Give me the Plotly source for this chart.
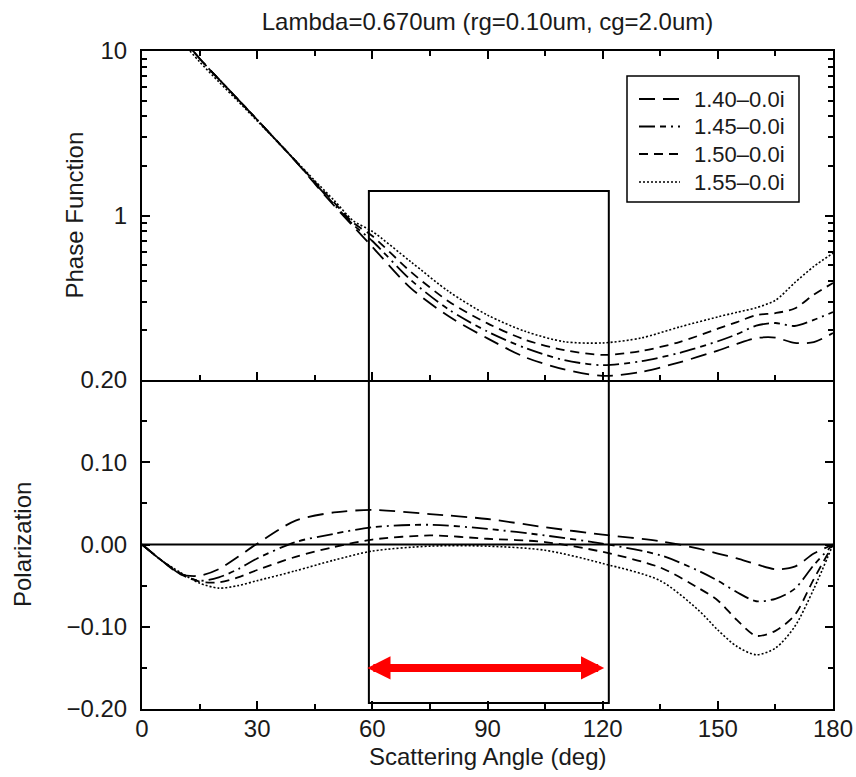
import plotly.graph_objects as go
from plotly.subplots import make_subplots

# ---------------- data ----------------
series_names = ["1.40\u20130.0i", "1.45\u20130.0i", "1.50\u20130.0i", "1.55\u20130.0i"]

ang_pf = [0, 5, 10, 15, 20, 25, 30, 35, 40, 45, 50, 55, 60, 70, 80, 90,
          100, 110, 120, 130, 140, 150, 155, 160, 165, 170, 175, 180]
pf_140 = [30, 20, 12.6, 9.0, 6.75, 5.08, 3.82, 2.86, 2.14, 1.56, 1.15, 0.86, 0.645,
          0.362, 0.243, 0.179, 0.137, 0.116, 0.106, 0.112, 0.128, 0.151, 0.166,
          0.180, 0.181, 0.168, 0.170, 0.193]
pf_145 = [30, 20, 12.6, 9.0, 6.75, 5.08, 3.82, 2.86, 2.14, 1.58, 1.17, 0.88, 0.70,
          0.406, 0.267, 0.197, 0.156, 0.132, 0.123, 0.130, 0.146, 0.172, 0.190,
          0.214, 0.222, 0.213, 0.232, 0.259]
pf_150 = [30, 20, 12.6, 9.0, 6.75, 5.08, 3.82, 2.86, 2.15, 1.60, 1.20, 0.905, 0.75,
          0.455, 0.299, 0.221, 0.175, 0.152, 0.142, 0.150, 0.170, 0.205, 0.225,
          0.248, 0.255, 0.272, 0.330, 0.389]
pf_155 = [28, 18.5, 11.8, 8.6, 6.5, 4.95, 3.76, 2.85, 2.16, 1.63, 1.24, 0.93, 0.80,
          0.524, 0.344, 0.248, 0.197, 0.171, 0.168, 0.180, 0.210, 0.242, 0.258,
          0.275, 0.305, 0.390, 0.490, 0.590]

ang_pol = [0, 5, 10, 15, 20, 25, 30, 40, 50, 60, 75, 90, 105, 120, 135, 145,
           150, 155, 160, 165, 170, 175, 180]
pol_140 = [0, -0.019, -0.036, -0.038, -0.030, -0.015, 0.001, 0.029, 0.039, 0.042,
           0.037, 0.031, 0.021, 0.012, 0.004, -0.005, -0.011, -0.017, -0.024,
           -0.030, -0.027, -0.011, 0]
pol_145 = [0, -0.019, -0.036, -0.044, -0.040, -0.030, -0.017, 0.003, 0.013, 0.021,
           0.024, 0.019, 0.011, 0.001, -0.013, -0.032, -0.044, -0.058, -0.069,
           -0.066, -0.054, -0.025, 0]
pol_150 = [0, -0.019, -0.035, -0.045, -0.046, -0.040, -0.031, -0.015, -0.003, 0.006,
           0.011, 0.007, 0.003, -0.009, -0.028, -0.053, -0.068, -0.092, -0.111,
           -0.105, -0.086, -0.042, 0]
pol_155 = [0, -0.019, -0.034, -0.047, -0.053, -0.050, -0.044, -0.032, -0.019, -0.008,
           -0.002, -0.002, -0.007, -0.023, -0.044, -0.080, -0.104, -0.124, -0.134,
           -0.126, -0.100, -0.054, 0]

x_tickvals = [0, 30, 60, 90, 120, 150, 180]
x_ticktext = ["0", "30", "60", "90", "120", "150", "180"]
pf_tickvals = [1, 10]
pf_ticktext = ["1", "10"]
pol_tickvals = [-0.2, -0.1, 0.0, 0.1, 0.2]
pol_ticktext = ["\u22120.20", "\u22120.10", "0.00", "0.10", "0.20"]

title_text = "Lambda=0.670um (rg=0.10um, cg=2.0um)"
x_title = "Scattering Angle (deg)"
y1_title = "Phase Function"
y2_title = "Polarization"

# highlighted angular range and arrow (deg)
box_x0, box_x1 = 59.1, 121.6
arrow_x0, arrow_x1, arrow_y = 58.3, 120.4, -0.15

# ---------------- figure ----------------
FONT = "Liberation Sans, Arial, Helvetica, sans-serif"
TXT = "#1a1a1a"
dashes = ["16px,8px", "16px,5px,6px,5px,2px,5px", "9px,6px", "2px,2px"]
widths = [1.8, 1.8, 1.8, 1.6]

# plot area spans x 142..833, y 51..709 on the page (body margin removed)
W, H = 856, 777
ML, MR, MT, MB = 142, 23, 51, 68
PX0, PX1, PY0, PY1 = 142.0, 833.0, 51.0, 709.0


def px2paper_x(px):
    return (px - PX0) / (PX1 - PX0)


def py2paper_y(py):
    return (PY1 - py) / (PY1 - PY0)


fig = make_subplots(rows=2, cols=1, shared_xaxes=True, vertical_spacing=0)

pf_all = [pf_140, pf_145, pf_150, pf_155]
pol_all = [pol_140, pol_145, pol_150, pol_155]
for i, name in enumerate(series_names):
    fig.add_trace(go.Scatter(
        x=ang_pf, y=pf_all[i], mode="lines", name=name,
        line=dict(color="black", width=widths[i], dash=dashes[i],
                  shape="spline", smoothing=0.8),
        showlegend=False), row=1, col=1)
for i, name in enumerate(series_names):
    fig.add_trace(go.Scatter(
        x=ang_pol, y=pol_all[i], mode="lines", name=name,
        line=dict(color="black", width=widths[i], dash=dashes[i],
                  shape="spline", smoothing=0.8),
        showlegend=False), row=2, col=1)

axis_common = dict(showline=True, linewidth=2, linecolor="black",
                   ticks="inside", ticklen=8, tickwidth=1.5, tickcolor="black",
                   showgrid=False, zeroline=False, automargin=False,
                   tickfont=dict(family=FONT, size=24, color=TXT))

xminor = dict(tickvals=[15, 45, 75, 105, 135, 165], ticks="inside",
              ticklen=5, tickwidth=1.5, tickcolor="black")
fig.update_xaxes(range=[0, 180], tickvals=x_tickvals, ticktext=x_ticktext,
                 minor=xminor, **axis_common)
fig.update_xaxes(showticklabels=False, mirror="ticks", row=1, col=1)
fig.update_xaxes(showticklabels=True, mirror=False, ticklabelstandoff=-3,
                 ticklabeloverflow="allow", row=2, col=1)

fig.update_yaxes(type="log", range=[-1, 1], tickvals=pf_tickvals, ticktext=pf_ticktext,
                 minor=dict(tickvals=[0.2, 0.3, 0.4, 0.5, 0.6, 0.7, 0.8, 0.9,
                                      2, 3, 4, 5, 6, 7, 8, 9],
                            ticks="inside", ticklen=5, tickwidth=1.5, tickcolor="black"),
                 mirror="ticks", ticklabelstandoff=8, row=1, col=1, **axis_common)
fig.update_yaxes(range=[-0.2, 0.2], tickvals=pol_tickvals, ticktext=pol_ticktext,
                 minor=dict(tickvals=[-0.15, -0.05, 0.05, 0.15], ticks="inside",
                            ticklen=5, tickwidth=1.5, tickcolor="black"),
                 mirror="ticks", ticklabelstandoff=8, row=2, col=1, **axis_common)

# zero line of polarization panel
fig.add_shape(type="line", xref="x2", yref="y2", x0=0, x1=180, y0=0, y1=0,
              line=dict(color="black", width=2))
# highlighted range box spanning both panels
fig.add_shape(type="rect", xref="x", yref="paper", x0=box_x0, x1=box_x1,
              y0=py2paper_y(703), y1=py2paper_y(191),
              line=dict(color="black", width=2), fillcolor="rgba(0,0,0,0)")

annotations = [
    dict(xref="x2", yref="y2", axref="x2", ayref="y2",
         x=arrow_x1, y=arrow_y, ax=arrow_x0, ay=arrow_y, text="",
         showarrow=True, arrowhead=2, startarrowhead=2, arrowside="end+start",
         arrowwidth=8, arrowsize=0.58, startarrowsize=0.58, arrowcolor="#ff0000"),
    dict(xref="paper", yref="paper", x=px2paper_x(74), y=0.75, text=y1_title,
         textangle=-90, showarrow=False, xanchor="center", yanchor="middle",
         font=dict(family=FONT, size=24, color=TXT)),
    dict(xref="paper", yref="paper", x=px2paper_x(22.5), y=0.25, text=y2_title,
         textangle=-90, showarrow=False, xanchor="center", yanchor="middle",
         font=dict(family=FONT, size=24, color=TXT)),
    dict(xref="paper", yref="paper", x=0.5, y=py2paper_y(756), text=x_title,
         showarrow=False, xanchor="center", yanchor="middle",
         font=dict(family=FONT, size=24, color=TXT)),
]

# manual legend box (so that the line samples match the reference length)
fig.add_shape(type="rect", xref="paper", yref="paper",
              x0=px2paper_x(627), x1=px2paper_x(799),
              y0=py2paper_y(202), y1=py2paper_y(76),
              line=dict(color="black", width=1.5), fillcolor="white", layer="above")
row_py = [99, 126.5, 154, 182]
for i, name in enumerate(series_names):
    yy = py2paper_y(row_py[i])
    fig.add_shape(type="line", xref="paper", yref="paper",
                  x0=px2paper_x(639), x1=px2paper_x(680), y0=yy, y1=yy,
                  line=dict(color="black", width=widths[i], dash=dashes[i]),
                  layer="above")
    annotations.append(dict(xref="paper", yref="paper", x=px2paper_x(692), y=yy,
                            text=name, showarrow=False, xanchor="left",
                            yanchor="middle",
                            font=dict(family=FONT, size=22, color=TXT)))

fig.update_layout(
    width=W, height=H,
    margin=dict(l=ML, r=MR, t=MT, b=MB, autoexpand=False),
    paper_bgcolor="white", plot_bgcolor="white",
    font=dict(family=FONT, size=24, color=TXT),
    title=dict(text=title_text, x=0.5, xref="paper", xanchor="center",
               y=1 - 22 / H, yref="container", yanchor="middle",
               font=dict(family=FONT, size=24, color=TXT)),
    annotations=annotations,
    showlegend=False,
)

fig.write_html("out.html",
               config={"displayModeBar": False},
               post_script="document.body.style.margin='0';"
                           "document.body.style.overflow='hidden';")
